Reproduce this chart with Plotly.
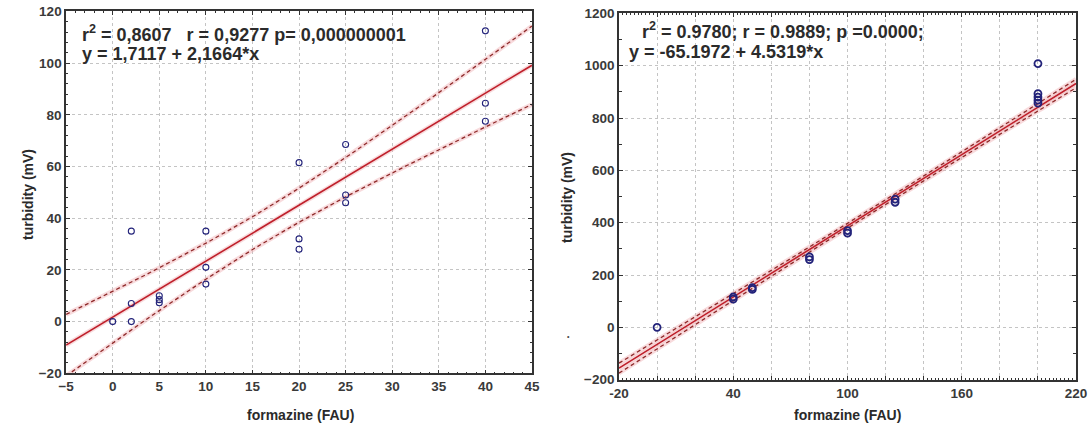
import numpy as np
import plotly.graph_objects as go

# ---------------- data ----------------
left_x = [0, 2, 2, 2, 5, 5, 5, 10, 10, 10, 20, 20, 20, 25, 25, 25, 40, 40, 40]
left_y = [0, 35, 7, 0, 10, 8.5, 7.3, 35, 21, 14.5, 61.5, 32, 28, 68.5, 49, 46, 112.5, 84.5, 77.5]
left_coef = [1.7117, 2.1664]          # intercept, slope (from figure text)

right_x = [0, 40, 40, 50, 50, 80, 80, 100, 100, 125, 125, 200, 200, 200, 200, 200]
right_y = [0, 108, 116, 145, 152, 259, 269, 360, 370, 478, 490, 1008, 893, 880, 868, 857]
right_coef = [-65.1972, 4.5319]
right_resid_sd = 16.0

left_text1 = "r<sup>2</sup> = 0,8607   r = 0,9277 p= 0,000000001"
left_text2 = "y = 1,7117 + 2,1664*x"
right_text1 = "r<sup>2</sup> = 0.9780; r = 0.9889; p =0.0000;"
right_text2 = "y = -65.1972 + 4.5319*x"

x_title = "formazine (FAU)"
y_title = "turbidity (mV)"

left_xrange = [-5, 45]
left_yrange = [-20, 120]
right_xrange = [-20, 220]
right_yrange = [-200, 1200]
right_xticks = list(range(-20, 221, 20))
right_xlabels = ["-20", "", "", "40", "", "", "100", "", "", "160", "", "", "220"]


def band(xs, ys, coef, xr, s=None):
    xs = np.asarray(xs, float)
    ys = np.asarray(ys, float)
    n = len(xs)
    b0, b1 = coef
    if s is None:
        resid = ys - (b0 + b1 * xs)
        s = np.sqrt(np.sum(resid ** 2) / (n - 2))
    xm = xs.mean()
    sxx = np.sum((xs - xm) ** 2)
    t = 2.11 if n == 19 else 2.145
    gx = np.linspace(xr[0], xr[1], 200)
    fit = b0 + b1 * gx
    hw = t * s * np.sqrt(1.0 / n + (gx - xm) ** 2 / sxx)
    return gx, fit, fit - hw, fit + hw


fig = go.Figure()

LINE = "#bf1f2a"
DASH = "#8f2a2a"
HALO = "rgba(240,175,180,0.45)"
MK = "#23237a"

for (xs, ys, coef, xr, xa, ya, msz, s, mw) in [
    (left_x, left_y, left_coef, left_xrange, "x", "y", 6, None, 1.1),
    (right_x, right_y, right_coef, right_xrange, "x2", "y2", 7, right_resid_sd, 1.8),
]:
    gx, fit, lo, hi = band(xs, ys, coef, xr, s)
    for yy in (lo, hi, fit):
        fig.add_trace(go.Scatter(x=gx, y=yy, mode="lines", xaxis=xa, yaxis=ya,
                                 line=dict(color=HALO, width=4.5),
                                 hoverinfo="skip", showlegend=False))
    for yy in (lo, hi):
        fig.add_trace(go.Scatter(x=gx, y=yy, mode="lines", xaxis=xa, yaxis=ya,
                                 line=dict(color=DASH, width=1.3, dash="4px,3px"),
                                 showlegend=False))
    fig.add_trace(go.Scatter(x=gx, y=fit, mode="lines", xaxis=xa, yaxis=ya,
                             line=dict(color=LINE, width=1.6), showlegend=False))
    fig.add_trace(go.Scatter(x=xs, y=ys, mode="markers", xaxis=xa, yaxis=ya,
                             marker=dict(symbol="circle-open", size=msz, color=MK,
                                         line=dict(width=mw, color=MK)),
                             showlegend=False))

FONT = "Liberation Sans, Arial, sans-serif"
tickfont = dict(family=FONT, size=13.5, color="#3a3a3a", weight="bold")
titlefont = dict(family=FONT, size=14, color="#2a2a2a")
grid = dict(showgrid=True, gridcolor="#c4c4c4", griddash="dot", gridwidth=1,
            zeroline=False, showline=True, linecolor="#333333", linewidth=1.5,
            mirror="ticks", ticks="inside", ticklen=4, tickcolor="#333333",
            tickfont=tickfont, automargin=False)

fig.update_layout(
    width=1089, height=430,
    margin=dict(l=0, r=0, t=0, b=0, autoexpand=False),
    paper_bgcolor="white", plot_bgcolor="white",
    xaxis=dict(domain=[0.0607, 0.4885], range=left_xrange, dtick=5, tick0=0,
               anchor="y",
               minor=dict(dtick=1, ticks="inside", ticklen=2, tickcolor="#333333", showgrid=False),
               **grid),
    yaxis=dict(domain=[0.1319, 0.9733], range=left_yrange, dtick=20, tick0=0,
               anchor="x",
               minor=dict(dtick=4, ticks="inside", ticklen=2, tickcolor="#333333", showgrid=False),
               **grid),
    xaxis2=dict(domain=[0.5684, 0.9881], range=right_xrange, tickmode="array",
                tickvals=right_xticks, ticktext=right_xlabels, anchor="y2",
                minor=dict(dtick=2, ticks="inside", ticklen=2, tickcolor="#333333", showgrid=False),
                **grid),
    yaxis2=dict(domain=[0.1170, 0.9690], range=right_yrange, dtick=200, tick0=0,
                anchor="x2",
                minor=dict(dtick=100, ticks="inside", ticklen=3, tickcolor="#333333", showgrid=False),
                **grid),
)

ann_font = dict(family=FONT, size=18, color="#2b2b2b")
anns = [
    dict(x=80 / 1089, y=1 - 33 / 430, text="<b>" + left_text1 + "</b>"),
    dict(x=80 / 1089, y=1 - 54 / 430, text="<b>" + left_text2 + "</b>"),
    dict(x=640 / 1089, y=1 - 30 / 430, text="<b>" + right_text1 + "</b>"),
    dict(x=627 / 1089, y=1 - 52 / 430, text="<b>" + right_text2 + "</b>"),
]
for a in anns:
    fig.add_annotation(xref="paper", yref="paper", xanchor="left", yanchor="middle",
                       showarrow=False, font=ann_font, **a)

# axis titles
for (xc, yc) in [(300 / 1089, 1 - 415 / 430), (848 / 1089, 1 - 415 / 430)]:
    fig.add_annotation(xref="paper", yref="paper", x=xc, y=yc, xanchor="center",
                       yanchor="middle", showarrow=False, text="<b>" + x_title + "</b>",
                       font=titlefont)
for (xc, yc) in [(28 / 1089, 1 - 195 / 430), (567 / 1089, 1 - 198 / 430)]:
    fig.add_annotation(xref="paper", yref="paper", x=xc, y=yc, xanchor="center",
                       yanchor="middle", showarrow=False, text="<b>" + y_title + "</b>",
                       textangle=-90, font=titlefont)

# stray dot present in the original picture
fig.add_annotation(xref="paper", yref="paper", x=568 / 1089, y=1 - 336 / 430,
                   xanchor="center", yanchor="middle", showarrow=False,
                   text="•", font=dict(family=FONT, size=7, color="#444444"))

fig.write_html("out.html", config={"displayModeBar": False},
               post_script="document.body.style.margin='0';")
